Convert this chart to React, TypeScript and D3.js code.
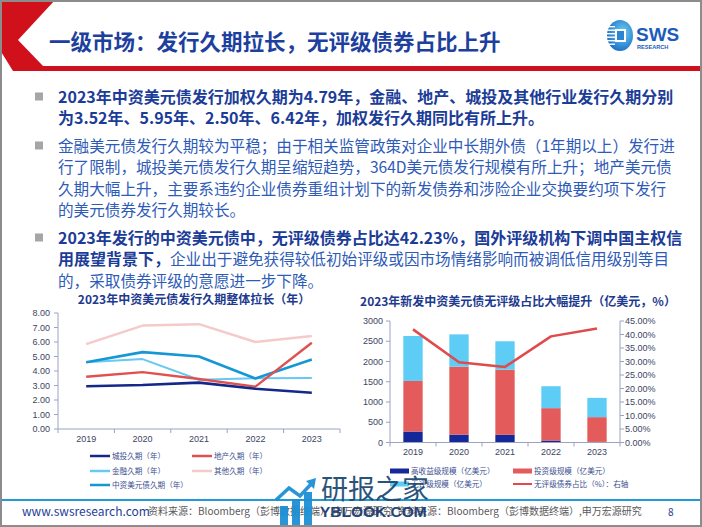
import React from "react";
import * as d3 from "d3";

// ---------- data ----------
const years = ["2019", "2020", "2021", "2022", "2023"];
const chengtouDur = [2.95, 3.03, 3.2, 2.78, 2.5];
const dichanDur = [3.6, 3.92, 3.45, 2.92, 5.95];
const jinrongDur = [4.6, 4.82, 3.4, 3.5, 3.52];
const qitaDur = [5.85, 7.13, 7.23, 6.0, 6.42];
const zhongziDur = [4.6, 5.3, 5.0, 3.48, 4.79];
const durTicks = [0, 1, 2, 3, 4, 5, 6, 7, 8];

const highYield = [270, 195, 190, 48, 15];
const investGrade = [1250, 1678, 1610, 800, 611];
const unrated = [1110, 797, 700, 542, 476];
const unratedShare = [41.9, 29.7, 28.0, 39.3, 42.23];
const amtTicks = [0, 500, 1000, 1500, 2000, 2500, 3000];
const shareTicks = [0, 5, 10, 15, 20, 25, 30, 35, 40, 45];

const FONT = "'Noto Sans CJK SC', 'Noto Sans', sans-serif";
const NUMFONT = "'Liberation Sans', Arial, sans-serif";

const BOLD = "#1b3c97";
const NORM = "#2e5bb8";

type Seg = { t: string; b: boolean };
const paragraphs: Seg[][][] = [
  [
    [{ t: "2023年中资美元债发行加权久期为4.79年，金融、地产、城投及其他行业发行久期分别", b: true }],
    [{ t: "为3.52年、5.95年、2.50年、6.42年，加权发行久期同比有所上升。", b: true }],
  ],
  [
    [{ t: "金融美元债发行久期较为平稳；由于相关监管政策对企业中长期外债（1年期以上）发行进", b: false }],
    [{ t: "行了限制，城投美元债发行久期呈缩短趋势，364D美元债发行规模有所上升；地产美元债", b: false }],
    [{ t: "久期大幅上升，主要系违约企业债券重组计划下的新发债券和涉险企业交换要约项下发行", b: false }],
    [{ t: "的美元债券发行久期较长。", b: false }],
  ],
  [
    [{ t: "2023年发行的中资美元债中，无评级债券占比达42.23%，国外评级机构下调中国主权信", b: true }],
    [
      { t: "用展望背景下，", b: true },
      { t: "企业出于避免获得较低初始评级或因市场情绪影响而被调低信用级别等目", b: false },
    ],
    [{ t: "的，采取债券评级的意愿进一步下降。", b: false }],
  ],
];

const durSeries = [
  { name: "其他久期（年）", vals: qitaDur, color: "#f5caca", w: 2.5 },
  { name: "金融久期（年）", vals: jinrongDur, color: "#66c9f2", w: 2 },
  { name: "中资美元债久期（年）", vals: zhongziDur, color: "#1597d5", w: 2.6 },
  { name: "地产久期（年）", vals: dichanDur, color: "#e0504f", w: 2.4 },
  { name: "城投久期（年）", vals: chengtouDur, color: "#14288a", w: 2.6 },
];

export default function App() {
  // ---------- left chart scales ----------
  const lx = d3.scaleBand<string>().domain(years).range([58, 340]);
  const ly = d3.scaleLinear().domain([0, 8]).range([429, 313]);
  const lcx = (i: number) => (lx(years[i]) as number) + lx.bandwidth() / 2;
  const mkLine = (vals: number[]) =>
    d3.line<number>().x((_, i) => lcx(i)).y((d) => ly(d))(vals) || "";

  // ---------- right chart scales ----------
  const rx = d3.scaleBand<string>().domain(years).range([390, 620]).paddingInner(0.58).paddingOuter(0.29);
  const ry = d3.scaleLinear().domain([0, 3000]).range([442.5, 321]);
  const ry2 = d3.scaleLinear().domain([0, 45]).range([442.5, 321]);
  const rstep = rx.step();
  const stack = d3.stack<any>().keys(["hy", "ig", "un"])(
    years.map((y, i) => ({ year: y, hy: highYield[i], ig: investGrade[i], un: unrated[i] }))
  );
  const barColors = ["#14289a", "#e35b5a", "#5dcdf6"];
  const shareLine =
    d3
      .line<number>()
      .x((_, i) => (rx(years[i]) as number) + rx.bandwidth() / 2)
      .y((d) => ry2(d))(unratedShare) || "";

  const axisColor = "#9aa3c2";
  const tickText = "#3c4563";

  // paragraph positions
  const lineH = 21.5;
  const paraStarts = [97, 146, 238];

  return (
    <svg
      width={702}
      height={527}
      viewBox="0 0 702 527"
      style={{ position: "absolute", left: 0, top: 0, background: "#fff" }}
      fontFamily={FONT}
    >
      <rect x={0} y={0} width={702} height={527} fill="#fff" />

      {/* header chevron + red bar */}
      <polygon points="0,0 55,0 18,40 43,66 702,66 702,71 13,71 0,50" fill="#d0101a" />
      <text x={49} y={50} fontSize={21.5} fontWeight={700} fill="#1d3f9e">
        一级市场：发行久期拉长，无评级债券占比上升
      </text>

      {/* logo */}
      <defs>
        <radialGradient id="lg" cx="0.6" cy="0.4" r="0.7">
          <stop offset="0" stopColor="#6fd0f5" />
          <stop offset="1" stopColor="#1466c0" />
        </radialGradient>
      </defs>
      <ellipse cx={620} cy={35.5} rx={13} ry={15.5} fill="url(#lg)" />
      {[26, 29.5, 33, 36.5, 40, 43.5].map((yy) => (
        <rect key={yy} x={607} y={yy} width={8} height={1.4} fill="#fff" />
      ))}
      <rect x={615} y={29} width={11} height={13} fill="#fff" />
      <rect x={617} y={31} width={7} height={9} fill="#2a86d0" />
      <text x={636} y={41} fontFamily={NUMFONT} fontSize={19} fontWeight={700} fill="#1b5cbc">
        SWS
      </text>
      <text x={637} y={49} fontFamily={NUMFONT} fontSize={5.6} fontWeight={700} fill="#1b5cbc">
        RESEARCH
      </text>

      {/* bullet paragraphs */}
      {paragraphs.map((para, pi) => (
        <g key={pi}>
          <rect x={35} y={paraStarts[pi] - 4.5} width={8} height={8} fill="#a6a6a6" />
          {para.map((ln, li) => (
            <text key={li} x={58} y={paraStarts[pi] + li * lineH + 5.7}>
              {ln.map((s, si) => (
                <tspan
                  key={si}
                  fontWeight={s.b ? 700 : 400}
                  fontSize={s.b ? 16 : 15.6}
                  fill={s.b ? BOLD : NORM}
                >
                  {s.t}
                </tspan>
              ))}
            </text>
          ))}
        </g>
      ))}

      {/* ---------- left chart ---------- */}
      <text x={194} y={304} textAnchor="middle" fontSize={12} fontWeight={700} fill="#1d3a8f">
        2023年中资美元债发行久期整体拉长（年）
      </text>
      <line x1={58} x2={58} y1={313} y2={429} stroke={axisColor} />
      {durTicks.map((t) => (
        <g key={t}>
          <line x1={54} x2={58} y1={ly(t)} y2={ly(t)} stroke={axisColor} />
          <text x={50} y={ly(t) + 3.2} textAnchor="end" fontSize={9} fontFamily={NUMFONT} fill={tickText}>
            {t.toFixed(2)}
          </text>
        </g>
      ))}
      <line x1={58} x2={340} y1={429} y2={429} stroke={axisColor} />
      {years.map((y, i) => (
        <g key={y}>
          <line x1={(lx(y) as number) + lx.bandwidth()} x2={(lx(y) as number) + lx.bandwidth()} y1={429} y2={433} stroke={axisColor} />
          <text x={lcx(i)} y={442} textAnchor="middle" fontSize={9} fontFamily={NUMFONT} fill={tickText}>
            {y}
          </text>
        </g>
      ))}
      <line x1={58} x2={58} y1={429} y2={433} stroke={axisColor} />
      {durSeries.map((s) => (
        <path key={s.name} d={mkLine(s.vals)} fill="none" stroke={s.color} strokeWidth={s.w} strokeLinejoin="round" />
      ))}
      {/* left legend */}
      {[
        { s: durSeries[4], x: 90, y: 456 },
        { s: durSeries[3], x: 192, y: 456 },
        { s: durSeries[1], x: 90, y: 471 },
        { s: durSeries[0], x: 192, y: 471 },
        { s: durSeries[2], x: 90, y: 485 },
      ].map((it) => (
        <g key={it.s.name}>
          <line x1={it.x} x2={it.x + 20} y1={it.y} y2={it.y} stroke={it.s.color} strokeWidth={2.5} />
          <text x={it.x + 22} y={it.y + 2.8} fontSize={7.6} fill="#3b4f8f">
            {it.s.name}
          </text>
        </g>
      ))}

      {/* ---------- right chart ---------- */}
      <text x={518} y={306} textAnchor="middle" fontSize={12} fontWeight={700} fill="#1d3a8f">
        2023年新发中资美元债无评级占比大幅提升（亿美元，%）
      </text>
      {stack.map((layer, li) =>
        layer.map((d, i) => (
          <rect
            key={li + "-" + i}
            x={rx(years[i]) as number}
            y={ry(d[1])}
            width={rx.bandwidth()}
            height={ry(d[0]) - ry(d[1])}
            fill={barColors[li]}
          />
        ))
      )}
      <line x1={390} x2={390} y1={321} y2={442.5} stroke={axisColor} />
      {amtTicks.map((t) => (
        <g key={t}>
          <line x1={386} x2={390} y1={ry(t)} y2={ry(t)} stroke={axisColor} />
          <text x={383} y={ry(t) + 3.2} textAnchor="end" fontSize={9} fontFamily={NUMFONT} fill={tickText}>
            {t}
          </text>
        </g>
      ))}
      <line x1={620} x2={620} y1={321} y2={442.5} stroke={axisColor} />
      {shareTicks.map((t) => (
        <g key={t}>
          <line x1={620} x2={624} y1={ry2(t)} y2={ry2(t)} stroke={axisColor} />
          <text x={625} y={ry2(t) + 3.2} fontSize={9} fontFamily={NUMFONT} fill={tickText}>
            {t.toFixed(2) + "%"}
          </text>
        </g>
      ))}
      <line x1={390} x2={620} y1={442.5} y2={442.5} stroke={axisColor} />
      {years.map((y, i) => (
        <g key={y}>
          <line x1={390 + rstep * (i + 1)} x2={390 + rstep * (i + 1)} y1={442.5} y2={446.5} stroke={axisColor} />
          <text x={(rx(y) as number) + rx.bandwidth() / 2} y={455} textAnchor="middle" fontSize={9} fontFamily={NUMFONT} fill={tickText}>
            {y}
          </text>
        </g>
      ))}
      <line x1={390} x2={390} y1={442.5} y2={446.5} stroke={axisColor} />
      <path d={shareLine} fill="none" stroke="#e04a4a" strokeWidth={2.5} strokeLinejoin="round" />
      {/* right legend */}
      {[
        { name: "高收益级规模（亿美元）", x: 390, y: 471, c: barColors[0], rect: true },
        { name: "投资级规模（亿美元）", x: 513, y: 471, c: barColors[1], rect: true },
        { name: "无评级规模（亿美元）", x: 390, y: 484, c: barColors[2], rect: true },
        { name: "无评级债券占比（%）：右轴", x: 513, y: 484, c: "#e04a4a", rect: false },
      ].map((it) => (
        <g key={it.name}>
          {it.rect ? (
            <rect x={it.x} y={it.y - 2.5} width={19} height={5} fill={it.c} />
          ) : (
            <line x1={it.x} x2={it.x + 19} y1={it.y} y2={it.y} stroke={it.c} strokeWidth={2} />
          )}
          <text x={it.x + 21} y={it.y + 2.8} fontSize={7.6} fill="#3b4f8f">
            {it.name}
          </text>
        </g>
      ))}

      {/* footer */}
      <line x1={0} x2={702} y1={500} y2={500} stroke="#1f9ad6" strokeWidth={2} />
      <text x={22} y={515.5} fontSize={12} fill="#1f3e99">
        www.swsresearch.com
      </text>
      <text x={148} y={515} fontSize={10} fill="#595959">
        资料来源：Bloomberg（彭博数据终端）,申万宏源研究
      </text>
      <text x={397} y={515} fontSize={10} fill="#595959">
        资料来源：Bloomberg（彭博数据终端）,申万宏源研究
      </text>
      <text x={668} y={515.5} fontSize={10} fill="#1f3e99">
        8
      </text>

      {/* watermark */}
      <g opacity={0.95}>
        <rect x={280} y={506} width={8} height={21} fill="#1e8fd4" />
        <rect x={292} y={499} width={8} height={28} fill="#1e8fd4" />
        <rect x={304} y={492} width={8} height={35} fill="#1e8fd4" />
        <polyline points="276,500 289,488 300,496 312,483" fill="none" stroke="#1e8fd4" strokeWidth={3.5} />
        <polygon points="306,481 316,478 314,489" fill="#1e8fd4" />
        <text x={321} y={499} fontSize={27} fill="#1e4b73">
          研报之家
        </text>
        <text x={320} y={517} fontSize={15.5} fontWeight={700} fontFamily={NUMFONT} fill="#1a3d72">
          YBLOOK.COM
        </text>
      </g>

      {/* frame */}
      <rect x={1} y={1} width={700} height={525} fill="none" stroke="#8c8c8c" strokeWidth={2} />
    </svg>
  );
}
